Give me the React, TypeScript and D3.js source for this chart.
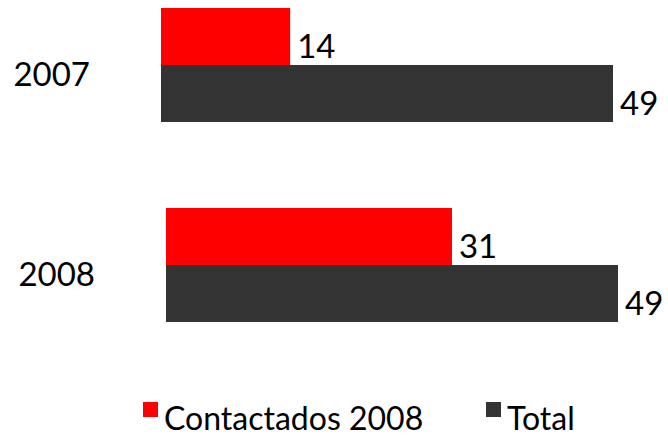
import React, { useEffect, useRef } from 'react';
import * as d3 from 'd3';

const years = ['2007', '2008'];
const seriesNames = ['Contactados 2008', 'Total'];
const contactados = [14, 31];
const total = [49, 49];

const W = 668;
const H = 436;
const colors = ['#ff0000', '#333333'];
// pequeño desplazamiento horizontal de cada fila (el original no está alineado)
const rowShift = [0, 5];

const App = () => {
  const svgRef = useRef<SVGSVGElement | null>(null);

  useEffect(() => {
    if (!svgRef.current) return;
    const svg = d3.select(svgRef.current);
    svg.selectAll('*').remove();

    const font = 'Lato, Calibri, sans-serif';
    const x0 = 161;
    const x = d3.scaleLinear().domain([0, 49]).range([0, 452]);

    const y = d3.scaleBand<string>()
      .domain(years)
      .range([8, 322])
      .paddingInner(0.43)
      .paddingOuter(0);

    const ySeries = d3.scaleBand<string>()
      .domain(seriesNames)
      .range([0, y.bandwidth()])
      .padding(0);

    const rows = years.map((yr, i) => ({
      year: yr,
      values: [contactados[i], total[i]],
      shift: rowShift[i],
    }));

    const g = svg.append('g');

    const group = g.selectAll('.grp')
      .data(rows)
      .join('g')
      .attr('class', 'grp')
      .attr('transform', d => `translate(${d.shift}, ${y(d.year)})`);

    // barras
    group.selectAll('rect')
      .data(d => d.values.map((v, k) => ({ v, name: seriesNames[k], k })))
      .join('rect')
      .attr('x', x0)
      .attr('y', d => ySeries(d.name)!)
      .attr('width', d => x(d.v))
      .attr('height', ySeries.bandwidth())
      .attr('fill', d => colors[d.k]);

    // etiquetas de valor
    group.selectAll('text.val')
      .data(d => d.values.map((v, k) => ({ v, name: seriesNames[k] })))
      .join('text')
      .attr('class', 'val')
      .attr('x', d => x0 + x(d.v) + 7)
      .attr('y', d => ySeries(d.name)! + ySeries.bandwidth() - 7)
      .attr('font-family', font)
      .attr('font-size', 33)
      .attr('fill', '#000')
      .text(d => d.v);

    // etiquetas de categoría
    group.append('text')
      .attr('x', 90)
      .attr('y', y.bandwidth() / 2 + 21)
      .attr('text-anchor', 'end')
      .attr('font-family', font)
      .attr('font-size', 33)
      .attr('fill', '#000')
      .text(d => d.year);

    // leyenda
    const legendX = [143, 486];
    const legend = svg.append('g');
    seriesNames.forEach((name, k) => {
      legend.append('rect')
        .attr('x', legendX[k])
        .attr('y', 402)
        .attr('width', 15)
        .attr('height', 15)
        .attr('fill', colors[k]);
      legend.append('text')
        .attr('x', legendX[k] + 21)
        .attr('y', 430)
        .attr('font-family', font)
        .attr('font-size', 32)
        .attr('fill', '#000')
        .text(name);
    });
  }, []);

  return (
    <svg
      ref={svgRef}
      width={W}
      height={H}
      style={{ position: 'absolute', left: 0, top: 0, background: '#fff' }}
    />
  );
};

export default App;
